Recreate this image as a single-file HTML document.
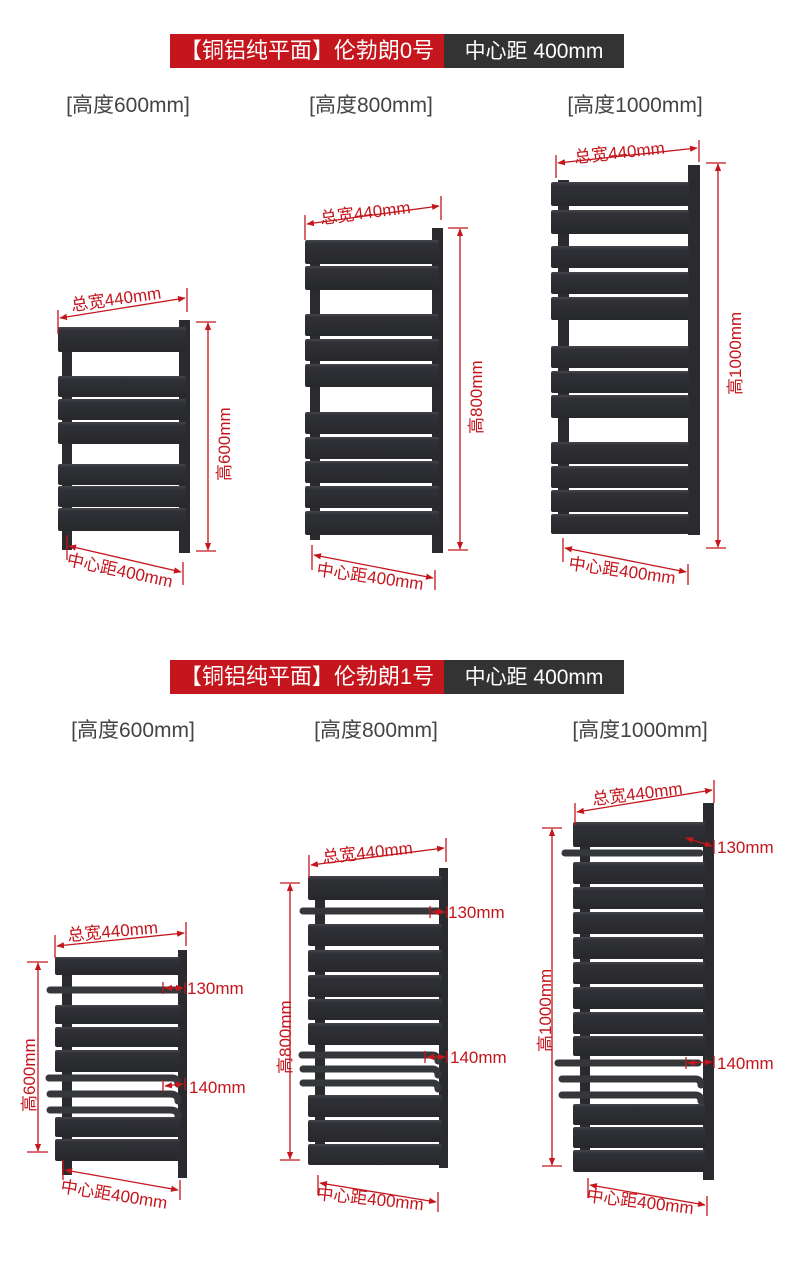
<!DOCTYPE html>
<html><head><meta charset="utf-8"><style>
html,body{margin:0;padding:0;background:#fff}
svg{display:block}
text{font-family:"Liberation Sans","Noto Sans CJK SC",sans-serif}
</style></head><body>
<svg width="790" height="1263" viewBox="0 0 790 1263" xmlns="http://www.w3.org/2000/svg">
<defs>
<marker id="a" viewBox="0 0 10 10" refX="9" refY="5" markerWidth="6" markerHeight="6" orient="auto-start-reverse"><path d="M0,1 L10,5 L0,9z" fill="#c4161c"/></marker>
<linearGradient id="g" x1="0" y1="0" x2="0" y2="1"><stop offset="0" stop-color="#45464b"/><stop offset="0.15" stop-color="#303136"/><stop offset="1" stop-color="#27282c"/></linearGradient>
</defs>
<!-- banners -->
<rect x="170" y="34" width="274" height="34" fill="#c4161c"/><rect x="444" y="34" width="180" height="34" fill="#333"/>
<text x="307" y="58" font-size="22" fill="#fff" text-anchor="middle">【铜铝纯平面】伦勃朗0号</text>
<text x="534" y="58" font-size="21" fill="#fff" text-anchor="middle">中心距 400mm</text>
<rect x="170" y="660" width="274" height="34" fill="#c4161c"/><rect x="444" y="660" width="180" height="34" fill="#333"/>
<text x="307" y="684" font-size="22" fill="#fff" text-anchor="middle">【铜铝纯平面】伦勃朗1号</text>
<text x="534" y="684" font-size="21" fill="#fff" text-anchor="middle">中心距 400mm</text>
<g font-size="21" fill="#444" text-anchor="middle">
<text x="128" y="112">[高度600mm]</text><text x="371" y="112">[高度800mm]</text><text x="635" y="112">[高度1000mm]</text>
<text x="133" y="737">[高度600mm]</text><text x="376" y="737">[高度800mm]</text><text x="640" y="737">[高度1000mm]</text>
</g>

<!-- Radiator 1 -->
<g fill="#2a2b2f">
<rect x="62" y="330" width="10" height="220"/><rect x="179" y="320" width="11" height="233"/>
</g>
<g fill="url(#g)">
<rect x="58" y="327" width="128" height="25" rx="2"/>
<rect x="58" y="376" width="128" height="21" rx="2"/><rect x="58" y="399" width="128" height="21" rx="2"/><rect x="58" y="422" width="128" height="22" rx="2"/>
<rect x="58" y="464" width="128" height="21" rx="2"/><rect x="58" y="486" width="128" height="21" rx="2"/><rect x="58" y="508" width="128" height="23" rx="2"/>
</g>
<!-- Radiator 2 -->
<g fill="#2a2b2f"><rect x="310" y="240" width="10" height="300"/><rect x="432" y="228" width="11" height="325"/></g>
<g fill="url(#g)">
<rect x="305" y="240" width="134" height="24" rx="2"/><rect x="305" y="266" width="134" height="24" rx="2"/>
<rect x="305" y="314" width="134" height="22" rx="2"/><rect x="305" y="339" width="134" height="22" rx="2"/><rect x="305" y="364" width="134" height="23" rx="2"/>
<rect x="305" y="412" width="134" height="22" rx="2"/><rect x="305" y="437" width="134" height="22" rx="2"/><rect x="305" y="461" width="134" height="22" rx="2"/><rect x="305" y="486" width="134" height="22" rx="2"/><rect x="305" y="511" width="134" height="24" rx="2"/>
</g>
<!-- Radiator 3 -->
<g fill="#2a2b2f"><rect x="558" y="180" width="11" height="350"/><rect x="688" y="165" width="12" height="370"/></g>
<g fill="url(#g)">
<rect x="551" y="182" width="138" height="24" rx="2"/><rect x="551" y="210" width="138" height="24" rx="2"/>
<rect x="551" y="246" width="138" height="22" rx="2"/><rect x="551" y="272" width="138" height="22" rx="2"/><rect x="551" y="297" width="138" height="23" rx="2"/>
<rect x="551" y="346" width="138" height="22" rx="2"/><rect x="551" y="371" width="138" height="22" rx="2"/><rect x="551" y="395" width="138" height="23" rx="2"/>
<rect x="551" y="442" width="138" height="22" rx="2"/><rect x="551" y="466" width="138" height="22" rx="2"/><rect x="551" y="490" width="138" height="22" rx="2"/><rect x="551" y="514" width="138" height="20" rx="2"/>
</g>

<!-- Row2 Radiator 1 -->
<g fill="#2a2b2f"><rect x="62" y="960" width="10" height="215"/><rect x="178" y="950" width="9" height="228"/></g>
<g fill="url(#g)">
<rect x="55" y="957" width="125" height="18" rx="2"/>
<rect x="55" y="1005" width="125" height="19" rx="2"/><rect x="55" y="1027" width="125" height="20" rx="2"/><rect x="55" y="1050" width="125" height="22" rx="2"/>
<rect x="55" y="1117" width="125" height="20" rx="2"/><rect x="55" y="1139" width="125" height="22" rx="2"/>
</g>
<g stroke="#36373b" stroke-width="7" stroke-linecap="round" fill="none">
<path d="M50,990 H178"/><path d="M49,1078 H172 q6,0 6,6"/><path d="M50,1094 H170 q8,0 8,7"/><path d="M50,1110 H170 q8,0 8,6"/>
</g>
<!-- Row2 Radiator 2 -->
<g fill="#2a2b2f"><rect x="315" y="880" width="10" height="285"/><rect x="439" y="868" width="9" height="300"/></g>
<g fill="url(#g)">
<rect x="308" y="876" width="134" height="24" rx="2"/>
<rect x="308" y="924" width="134" height="22" rx="2"/><rect x="308" y="950" width="134" height="22" rx="2"/><rect x="308" y="975" width="134" height="22" rx="2"/><rect x="308" y="999" width="134" height="21" rx="2"/><rect x="308" y="1023" width="134" height="22" rx="2"/>
<rect x="308" y="1095" width="134" height="22" rx="2"/><rect x="308" y="1120" width="134" height="22" rx="2"/><rect x="308" y="1144" width="134" height="21" rx="2"/>
</g>
<g stroke="#36373b" stroke-width="7" stroke-linecap="round" fill="none">
<path d="M303,911 H438"/><path d="M302,1055 H432 q6,0 6,6"/><path d="M303,1069 H432 q6,0 6,6"/><path d="M303,1083 H432 q6,0 6,6"/>
</g>
<!-- Row2 Radiator 3 -->
<g fill="#2a2b2f"><rect x="580" y="840" width="10" height="320"/><rect x="703" y="803" width="11" height="377"/></g>
<g fill="url(#g)">
<rect x="573" y="822" width="132" height="25" rx="2"/>
<rect x="573" y="862" width="132" height="22" rx="2"/><rect x="573" y="887" width="132" height="22" rx="2"/><rect x="573" y="912" width="132" height="22" rx="2"/><rect x="573" y="937" width="132" height="22" rx="2"/><rect x="573" y="962" width="132" height="22" rx="2"/><rect x="573" y="987" width="132" height="22" rx="2"/><rect x="573" y="1012" width="132" height="22" rx="2"/><rect x="573" y="1036" width="132" height="20" rx="2"/>
<rect x="573" y="1104" width="132" height="21" rx="2"/><rect x="573" y="1127" width="132" height="21" rx="2"/><rect x="573" y="1150" width="132" height="22" rx="2"/>
</g>
<g stroke="#36373b" stroke-width="7" stroke-linecap="round" fill="none">
<path d="M565,853 H700"/><path d="M558,1063 H698"/><path d="M562,1079 H695 q6,0 6,6"/><path d="M562,1095 H695 q6,0 6,6"/>
</g>

<!-- dimensions -->
<g stroke="#c4161c" stroke-width="1.3" fill="none">
<path d="M58,310 V334 M187,288 V312"/><path d="M60,318 L185,298" marker-start="url(#a)" marker-end="url(#a)"/>
<path d="M196,322 H216 M196,551 H216"/><path d="M208,323 V550" marker-start="url(#a)" marker-end="url(#a)"/>
<path d="M67,535 V560 M183,562 V585"/><path d="M69,546 L181,572" marker-start="url(#a)" marker-end="url(#a)"/>
<path d="M305,215 V240 M441,196 V220"/><path d="M307,224 L439,206" marker-start="url(#a)" marker-end="url(#a)"/>
<path d="M448,228 H468 M448,550 H468"/><path d="M460,229 V549" marker-start="url(#a)" marker-end="url(#a)"/>
<path d="M312,545 V570 M435,570 V590"/><path d="M314,555 L433,578" marker-start="url(#a)" marker-end="url(#a)"/>
<path d="M556,155 V178 M699,140 V162"/><path d="M558,163 L697,148" marker-start="url(#a)" marker-end="url(#a)"/>
<path d="M706,163 H726 M706,548 H726"/><path d="M718,164 V547" marker-start="url(#a)" marker-end="url(#a)"/>
<path d="M563,538 V562 M688,564 V585"/><path d="M565,548 L686,572" marker-start="url(#a)" marker-end="url(#a)"/>
<path d="M55,935 V958 M186,922 V946"/><path d="M57,946 L184,933" marker-start="url(#a)" marker-end="url(#a)"/>
<path d="M27,962 H48 M27,1152 H48"/><path d="M38,963 V1151" marker-start="url(#a)" marker-end="url(#a)"/>
<path d="M63,1160 V1180 M180,1180 V1200"/><path d="M65,1170 L178,1190" marker-start="url(#a)" marker-end="url(#a)"/>
<path d="M163,982 V994 M185,982 V994"/><path d="M165,988 H183" marker-start="url(#a)" marker-end="url(#a)"/>
<path d="M163,1080 V1092 M185,1078 V1090"/><path d="M165,1086 L183,1084" marker-start="url(#a)" marker-end="url(#a)"/>
<path d="M309,855 V878 M446,838 V862"/><path d="M311,865 L444,848" marker-start="url(#a)" marker-end="url(#a)"/>
<path d="M280,883 H300 M280,1160 H300"/><path d="M290,884 V1159" marker-start="url(#a)" marker-end="url(#a)"/>
<path d="M318,1175 V1195 M438,1192 V1212"/><path d="M320,1183 L436,1202" marker-start="url(#a)" marker-end="url(#a)"/>
<path d="M430,906 V918 M447,906 V918"/><path d="M432,912 H445" marker-start="url(#a)" marker-end="url(#a)"/>
<path d="M425,1051 V1063 M447,1051 V1063"/><path d="M427,1057 H445" marker-start="url(#a)" marker-end="url(#a)"/>
<path d="M575,803 V825 M714,780 V803"/><path d="M577,812 L712,790" marker-start="url(#a)" marker-end="url(#a)"/>
<path d="M542,828 H562 M542,1166 H562"/><path d="M552,829 V1165" marker-start="url(#a)" marker-end="url(#a)"/>
<path d="M588,1178 V1198 M707,1196 V1216"/><path d="M590,1185 L705,1205" marker-start="url(#a)" marker-end="url(#a)"/>
<path d="M714,840 V854"/><path d="M686,838 L712,846" marker-start="url(#a)" marker-end="url(#a)"/>
<path d="M686,1057 V1069 M714,1056 V1068"/><path d="M688,1063 L712,1062" marker-start="url(#a)" marker-end="url(#a)"/>
</g>
<g font-size="17" fill="#c4161c">
<text transform="translate(72,311) rotate(-8)">总宽440mm</text>
<text transform="translate(230,481) rotate(-90)">高600mm</text>
<text transform="translate(66,565) rotate(12)">中心距400mm</text>
<text transform="translate(321,224) rotate(-7)">总宽440mm</text>
<text transform="translate(482,434) rotate(-90)">高800mm</text>
<text transform="translate(316,575) rotate(8)">中心距400mm</text>
<text transform="translate(575,163) rotate(-6)">总宽440mm</text>
<text transform="translate(741,395) rotate(-90)">高1000mm</text>
<text transform="translate(568,569) rotate(8)">中心距400mm</text>
<text transform="translate(68,941) rotate(-5)">总宽440mm</text>
<text transform="translate(35,1112) rotate(-90)">高600mm</text>
<text transform="translate(60,1192) rotate(9)">中心距400mm</text>
<text x="187" y="994">130mm</text><text x="189" y="1093">140mm</text>
<text transform="translate(323,863) rotate(-6)">总宽440mm</text>
<text transform="translate(291,1074) rotate(-90)">高800mm</text>
<text transform="translate(316,1199) rotate(6)">中心距400mm</text>
<text x="448" y="918">130mm</text><text x="450" y="1063">140mm</text>
<text transform="translate(593,805) rotate(-7)">总宽440mm</text>
<text transform="translate(551,1052) rotate(-90)">高1000mm</text>
<text transform="translate(586,1201) rotate(7)">中心距400mm</text>
<text x="717" y="853">130mm</text><text x="717" y="1069">140mm</text>
</g>
</svg>
</body></html>
